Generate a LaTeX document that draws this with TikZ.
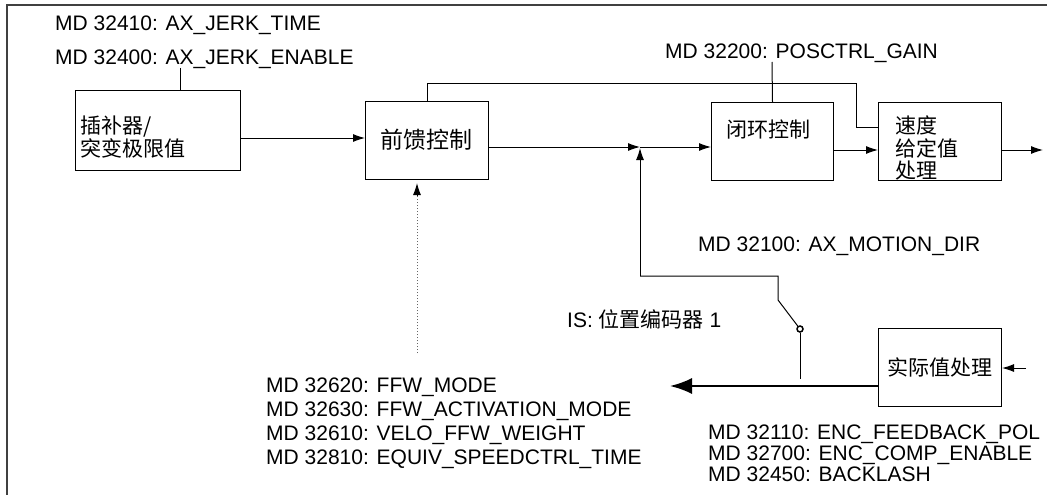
\documentclass[tikz,border=0pt]{standalone}
\usepackage{fontspec}
\setmainfont{Liberation Sans}
\newfontfamily\cjk{Noto Sans CJK SC}
\usetikzlibrary{arrows.meta,calc}
\begin{document}
\begin{tikzpicture}[x=1pt,y=-1pt,
  blk/.style={draw,line width=1pt,inner sep=0pt,anchor=north west},
  lbl/.style={inner sep=0pt,anchor=base west,font=\fontsize{21}{24}\selectfont},
  ctext/.style={inner sep=0pt,font=\cjk\fontsize{21}{23}\selectfont,align=left},
  ln/.style={line width=1pt},
  arr/.style={line width=1pt,-{Latex[length=12pt,width=8pt]}},
  bigarr/.style={line width=2pt,-{Latex[length=22pt,width=16pt]}},
  frame/.style={line width=2pt,draw=black!75}]
\useasboundingbox (0,0) rectangle (1047,495);
\draw[frame] (7,495) -- (7,5) -- (1047,5);

% blocks
\node[blk,minimum width=165pt,minimum height=80pt] (b1) at (75,90) {};
\node[blk,minimum width=123pt,minimum height=78pt] (b2) at (365,101) {};
\node[blk,minimum width=122pt,minimum height=78pt] (b3) at (711,102) {};
\node[blk,minimum width=123pt,minimum height=78pt] (b4) at (878,102) {};
\node[blk,minimum width=123pt,minimum height=78pt] (b5) at (878,328) {};

% block texts
\node[ctext,anchor=west] (t1) at (80,137) {插补器/\\突变极限值};
\node[ctext,font=\cjk\fontsize{23}{25}\selectfont] (t2) at (426.5,140) {前馈控制};
\node[ctext,anchor=west] (t3) at (726,130) {闭环控制};
\node[ctext,anchor=west,font=\cjk\fontsize{21}{22.5}\selectfont] (t4) at (895,148) {速度\\给定值\\处理};
\node[ctext] (t5) at (940,367) {实际值处理};

% labels
\node[lbl] (m1) at (55,31) {MD 32410: AX\_JERK\_TIME};
\node[lbl] (m2) at (55,64) {MD 32400: AX\_JERK\_ENABLE};
\node[lbl] (m3) at (665,59) {MD 32200: POSCTRL\_GAIN};
\node[lbl] (m4) at (698,251) {MD 32100: AX\_MOTION\_DIR};
\node[lbl] (is) at (567,327) {IS: {\cjk 位置编码器} 1};
\node[lbl] (f1) at (266,392) {MD 32620: FFW\_MODE};
\node[lbl] (f2) at (266,416) {MD 32630: FFW\_ACTIVATION\_MODE};
\node[lbl] (f3) at (266,440) {MD 32610: VELO\_FFW\_WEIGHT};
\node[lbl] (f4) at (266,464) {MD 32810: EQUIV\_SPEEDCTRL\_TIME};
\node[lbl] (e1) at (708,439) {MD 32110: ENC\_FEEDBACK\_POL};
\node[lbl] (e2) at (708,460) {MD 32700: ENC\_COMP\_ENABLE};
\node[lbl] (e3) at (708,481) {MD 32450: BACKLASH};

% coordinates
\coordinate (c1) at (180,68);
\coordinate (c2) at (772,62);
\coordinate (j) at (640,147);
\coordinate (fb1) at (640,276);
\coordinate (fb2) at (778,276);
\coordinate (fb3) at (778,300);
\node[draw,circle,line width=1.5pt,inner sep=0pt,minimum size=6pt] (sw) at (800,329) {};
\coordinate (swe) at (800,379);
\coordinate (fbe) at (670,386);
\coordinate (out) at (1043,150);
\coordinate (in5) at (1026,368);
\coordinate (dot) at (417,353);
\coordinate (dtip) at (417,183);

% connectors
\draw[ln] (c1) -- (c1 |- b1.north);
\draw[ln] (c2) -- (b3.north);
\draw[arr] (b1.east |- 0,138) -- (b2.west |- 0,138);
\draw[arr] (b2.east |- j) -- (j);
\draw[arr] (j) -- (b3.west |- j);
\draw[arr] (b3.east |- out) -- (b4.west |- out);
\draw[arr] (b4.east |- out) -- (out);
\draw[ln] (b2.north) -- (b2.north |- 0,84) -- (856,84) -- (856,127) -- (b4.west |- 0,127);
\draw[arr] (fb1) -- ($(j)+(0,1)$);
\draw[ln] (fb1) -- (fb2) -- (fb3) -- (sw);
\draw[ln] (sw) -- (swe);
\draw[bigarr] (b5.west |- fbe) -- (fbe);
\draw[arr] (in5) -- (b5.east |- in5);
\draw[line width=1pt,dotted,draw=black!60] (dot) -- ($(dtip)+(0,10)$);
\draw[arr] ($(dtip)+(0,13)$) -- (dtip);
\end{tikzpicture}
\end{document}
